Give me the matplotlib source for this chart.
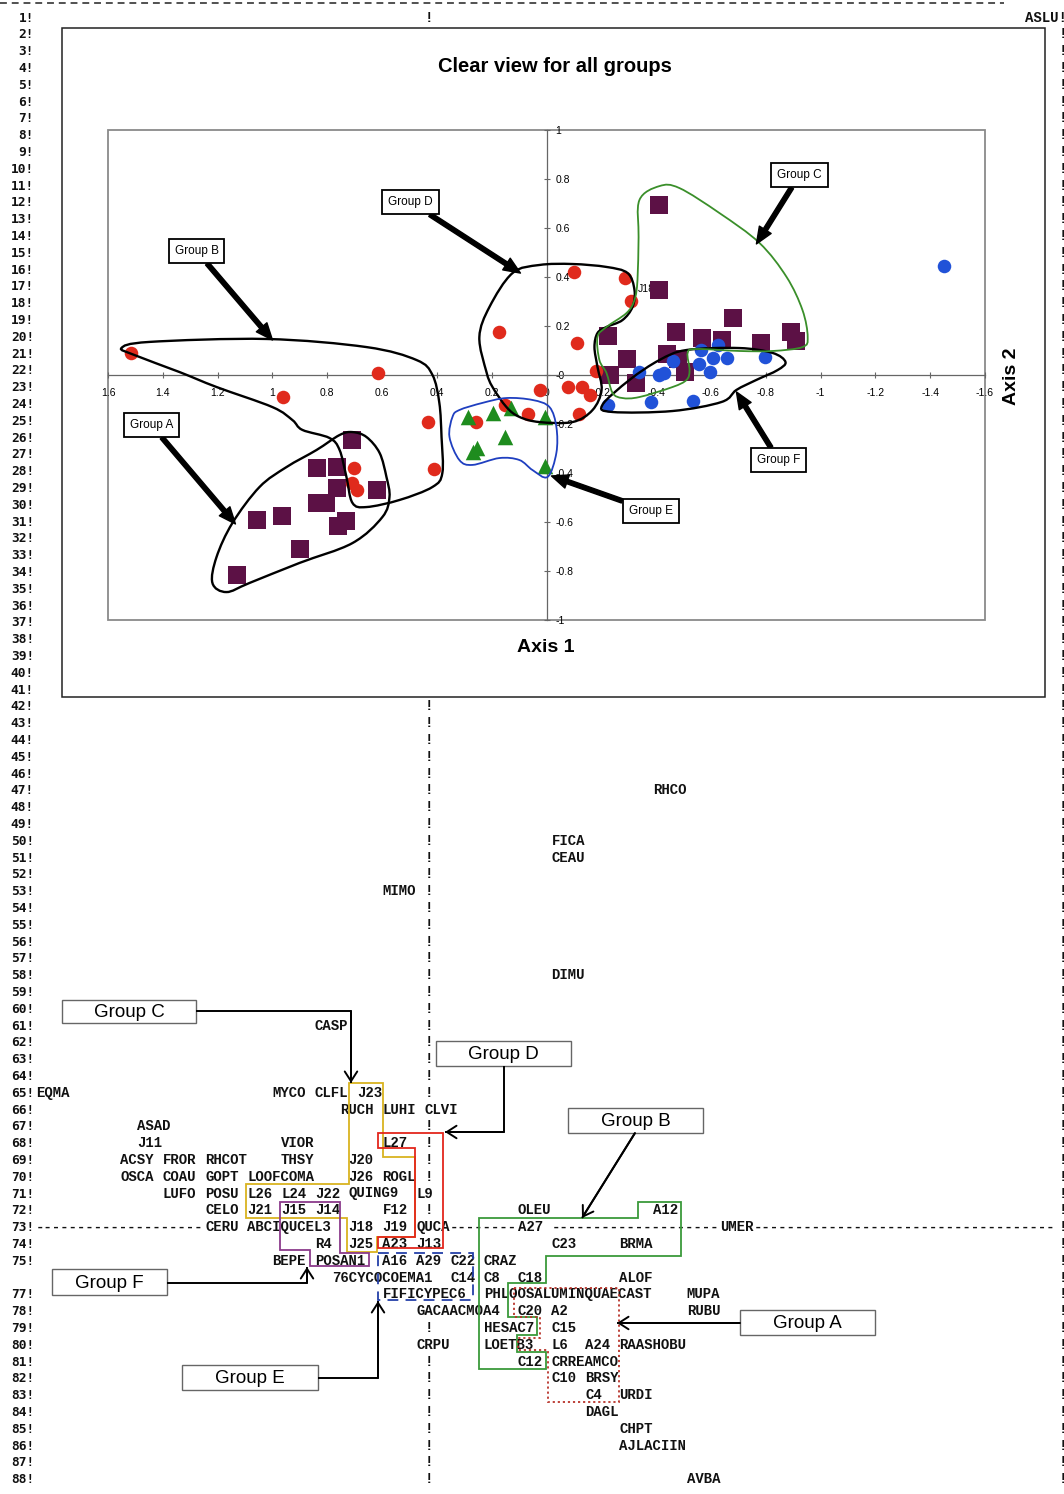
import matplotlib
matplotlib.use("Agg")
import matplotlib.pyplot as plt
from matplotlib.patches import Rectangle, PathPatch, Polygon
from matplotlib.path import Path
import numpy as np

plt.rcParams['font.family'] = ['Liberation Sans', 'DejaVu Sans']

# ---------------- ordination scores (axis 1, axis 2) ----------------
red_x = [1.515, 0.613, 0.960, 0.434, 0.412, 0.701, 0.708, 0.693, 0.259, 0.153, 0.066,
         0.022, 0.175, -0.099, -0.288, -0.307, -0.113, -0.182, -0.077, -0.128, -0.157, -0.120]
red_y = [0.090, 0.008, -0.090, -0.192, -0.384, -0.380, -0.441, -0.469, -0.192, -0.122, -0.159,
         -0.061, 0.176, 0.420, 0.396, 0.302, 0.131, 0.016, -0.049, -0.049, -0.082, -0.159]

blue_x = [-1.449, -0.336, -0.409, -0.427, -0.460, -0.562, -0.624, -0.606, -0.657, -0.555,
          -0.595, -0.799, -0.223, -0.383, -0.533]
blue_y = [0.445, 0.012, 0.000, 0.008, 0.057, 0.102, 0.122, 0.069, 0.069, 0.045,
          0.012, 0.073, -0.122, -0.110, -0.106]

purple_x = [-0.409, -0.409, -0.223, -0.474, -0.679, -0.569, -0.639, -0.781, -0.891, -0.912,
            -0.292, -0.438, -0.478, -0.504, -0.230, -0.328,
            0.708, 0.836, 0.766, 0.766, 0.617, 0.836, 0.803, 0.964, 1.058, 0.730, 0.759, 0.898, 1.131]
purple_y = [0.694, 0.347, 0.159, 0.176, 0.233, 0.151, 0.143, 0.131, 0.176, 0.139,
            0.065, 0.086, 0.065, 0.012, 0.000, -0.033,
            -0.265, -0.380, -0.376, -0.461, -0.469, -0.522, -0.522, -0.576, -0.592, -0.596, -0.616, -0.710, -0.816]

green_x = [0.285, 0.197, 0.255, 0.270, 0.153, 0.007, 0.007, 0.128]
green_y = [-0.171, -0.155, -0.298, -0.314, -0.253, -0.171, -0.371, -0.135]

# hand drawn group envelopes (axis units)
outline_a = [(1.219, -0.849), (1.168, -0.886), (1.084, -0.849), (0.901, -0.767), (0.708, -0.686),
             (0.599, -0.580), (0.573, -0.498), (0.584, -0.416), (0.609, -0.318), (0.657, -0.253),
             (0.708, -0.233), (0.755, -0.245), (0.839, -0.306), (0.949, -0.376), (1.047, -0.457),
             (1.146, -0.604), (1.204, -0.743)]
outline_b = [(1.551, 0.110), (1.449, 0.135), (1.022, 0.147), (0.657, 0.114), (0.474, 0.061),
             (0.416, 0.0), (0.391, -0.114), (0.383, -0.253), (0.380, -0.400), (0.416, -0.457),
             (0.536, -0.510), (0.657, -0.539), (0.708, -0.522), (0.730, -0.416), (0.755, -0.306),
             (0.792, -0.257), (0.891, -0.224), (0.927, -0.184), (1.0, -0.131), (1.204, -0.049),
             (1.339, 0.012), (1.50, 0.080)]
outline_c = [(-0.412, 0.771), (-0.339, 0.714), (-0.336, 0.563), (-0.332, 0.388), (-0.321, 0.306),
             (-0.292, 0.253), (-0.219, 0.196), (-0.186, 0.155), (-0.193, 0.061), (-0.219, 0.008),
             (-0.241, -0.073), (-0.277, -0.094), (-0.339, -0.090), (-0.460, -0.049), (-0.511, -0.020),
             (-0.522, 0.020), (-0.515, 0.090), (-0.547, 0.106), (-0.704, 0.098), (-0.825, 0.098),
             (-0.934, 0.114), (-0.953, 0.155), (-0.934, 0.265), (-0.876, 0.400), (-0.777, 0.539),
             (-0.631, 0.661), (-0.485, 0.763)]
outline_d = [(0.219, 0.012), (0.245, 0.155), (0.208, 0.278), (0.124, 0.416), (0.026, 0.449),
             (-0.095, 0.453), (-0.219, 0.441), (-0.296, 0.416), (-0.321, 0.347), (-0.314, 0.278),
             (-0.277, 0.224), (-0.219, 0.196), (-0.186, 0.171), (-0.175, 0.114), (-0.186, 0.033),
             (-0.201, -0.061), (-0.168, -0.143), (-0.095, -0.192), (0.026, -0.192), (0.099, -0.171),
             (0.146, -0.131), (0.197, -0.049)]
outline_e = [(0.343, -0.171), (0.354, -0.253), (0.318, -0.347), (0.270, -0.367), (0.172, -0.339),
             (0.099, -0.347), (0.051, -0.388), (-0.004, -0.416), (-0.036, -0.318), (-0.036, -0.212),
             (-0.011, -0.131), (0.051, -0.102), (0.146, -0.094), (0.234, -0.114), (0.318, -0.143)]
outline_f = [(-0.204, -0.122), (-0.303, -0.020), (-0.412, 0.061), (-0.511, 0.102), (-0.704, 0.110),
             (-0.825, 0.090), (-0.872, 0.053), (-0.843, 0.020), (-0.766, -0.020), (-0.693, -0.061),
             (-0.639, -0.110), (-0.460, -0.147), (-0.241, -0.151)]

# callouts: label, text position, arrow tip
chart_callouts = [("Group A", (1.442, -0.204), (1.135, -0.608)),
                  ("Group B", (1.277, 0.506), (1.0, 0.143)),
                  ("Group D", (0.496, 0.706), (0.095, 0.416)),
                  ("Group C", (-0.923, 0.816), (-0.766, 0.535)),
                  ("Group F", (-0.847, -0.347), (-0.693, -0.069)),
                  ("Group E", (-0.380, -0.555), (-0.018, -0.412))]

tick_vals_x = np.round(np.arange(1.6, -1.61, -0.2), 1)
tick_vals_y = np.round(np.arange(-1.0, 1.01, 0.2), 1)

# ---------------- line printer output (row, column, text) ----------------
print_labels = [
    (1, 117, "ASLU!"),
    (47, 73, "RHCO"), (50, 61, "FICA"), (51, 61, "CEAU"), (53, 41, "MIMO"),
    (58, 61, "DIMU"), (61, 33, "CASP"),
    (65, 0, "EQMA"), (65, 28, "MYCO"), (65, 33, "CLFL"), (65, 38, "J23"),
    (66, 36, "RUCH"), (66, 41, "LUHI"), (66, 46, "CLVI"),
    (67, 12, "ASAD"),
    (68, 12, "J11"), (68, 29, "VIOR"), (68, 41, "L27"),
    (69, 10, "ACSY"), (69, 15, "FROR"), (69, 20, "RHCOT"), (69, 29, "THSY"), (69, 37, "J20"),
    (70, 10, "OSCA"), (70, 15, "COAU"), (70, 20, "GOPT"), (70, 25, "LOOFCOMA"), (70, 37, "J26"),
    (70, 41, "ROGL"),
    (71, 15, "LUFO"), (71, 20, "POSU"), (71, 25, "L26"), (71, 29, "L24"), (71, 33, "J22"),
    (71, 37, "QUING9"), (71, 45, "L9"),
    (72, 20, "CELO"), (72, 25, "J21"), (72, 29, "J15"), (72, 33, "J14"), (72, 41, "F12"),
    (72, 57, "OLEU"), (72, 73, "A12"),
    (73, 0, "-" * 20), (73, 20, "CERU"), (73, 25, "ABCIQUCEL3"), (73, 37, "J18"), (73, 41, "J19"),
    (73, 45, "QUCA"), (73, 49, "-" * 8), (73, 57, "A27"), (73, 61, "-" * 20), (73, 81, "UMER"),
    (73, 85, "-" * 36),
    (74, 33, "R4"), (74, 37, "J25"), (74, 41, "A23"), (74, 45, "J13"), (74, 61, "C23"), (74, 69, "BRMA"),
    (75, 28, "BEPE"), (75, 33, "POSAN1"), (75, 41, "A16"), (75, 45, "A29"), (75, 49, "C22"),
    (75, 53, "CRAZ"),
    (76, 35, "76CYCOCOEMA1"), (76, 49, "C14"), (76, 53, "C8"), (76, 57, "C18"), (76, 69, "ALOF"),
    (77, 41, "FIFICYPEC6"), (77, 53, "PHLOOSALUMINQUAECAST"), (77, 77, "MUPA"),
    (78, 45, "GACAACMOA4"), (78, 57, "C20"), (78, 61, "A2"), (78, 77, "RUBU"),
    (79, 53, "HESAC7"), (79, 61, "C15"),
    (80, 45, "CRPU"), (80, 53, "LOETB3"), (80, 61, "L6"), (80, 65, "A24"), (80, 69, "RAASHOBU"),
    (81, 57, "C12"), (81, 61, "CRREAMCO"),
    (82, 61, "C10"), (82, 65, "BRSY"),
    (83, 65, "C4"), (83, 69, "URDI"),
    (84, 65, "DAGL"), (85, 69, "CHPT"), (86, 69, "AJLACIIN"), (88, 77, "AVBA"),
]
mid_bar_rows = [1] + list(range(42, 66)) + [67, 68, 69, 70, 72, 79] + list(range(81, 89))
row_numbers = [r for r in range(1, 89) if r != 76]

# group outlines drawn on the printout (page pixels)
print_groups = [
    ("#d9b320", "-", [(349, 1083), (383, 1083), (383, 1157), (415, 1157), (415, 1237), (377, 1237),
                      (377, 1252), (347, 1252), (347, 1218), (246, 1218), (246, 1184), (349, 1184)]),
    ("#e3261c", "-", [(378, 1133), (443, 1133), (443, 1248), (378, 1248), (378, 1237), (415, 1237),
                      (415, 1148), (378, 1148)]),
    ("#8b3a8b", "-", [(280, 1202), (340, 1202), (340, 1253), (369, 1253), (369, 1266), (310, 1266),
                      (310, 1250), (280, 1250)]),
    ("#2440a8", (0, (6, 4)), [(378, 1253), (473, 1253), (473, 1300), (378, 1300)]),
    ("#3a9a3a", "-", [(479, 1218), (638, 1218), (638, 1202), (681, 1202), (681, 1256), (546, 1256),
                      (546, 1283), (508, 1283), (508, 1317), (537, 1317), (537, 1335), (517, 1335),
                      (517, 1352), (546, 1352), (546, 1369), (479, 1369)]),
    ("#b8332a", (0, (1.2, 1.6)), [(514, 1288), (619, 1288), (619, 1402), (548, 1402), (548, 1350),
                                  (518, 1350), (518, 1338), (540, 1338), (540, 1317), (514, 1317)]),
]
print_callouts = [
    ("Group C", (62, 1000, 134, 23), [(196, 1011), (351, 1011), (351, 1083)]),
    ("Group D", (436, 1041, 135, 25), [(504, 1066), (504, 1132), (445, 1132)]),
    ("Group B", (568, 1108, 135, 25), [(635, 1133), (582, 1218)]),
    ("Group F", (52, 1269, 115, 26), [(167, 1283), (307, 1283), (307, 1267)]),
    ("Group E", (182, 1365, 136, 25), [(318, 1378), (378, 1378), (378, 1301)]),
    ("Group A", (740, 1310, 135, 25), [(740, 1323), (617, 1323)]),
]

W, H = 1064, 1494
ROW_Y0, ROW_H = 17.0, 16.8
COL_X0, COL_W = 36.0, 8.45
MONO = "Liberation Mono"


def row_y(r):
    return ROW_Y0 + (r - 1) * ROW_H


def col_x(c):
    return COL_X0 + c * COL_W


def smooth_closed(pts):
    # closed Catmull-Rom curve turned into cubic bezier segments
    p = np.asarray(pts, dtype=float)
    n = len(p)
    verts = [p[0]]
    codes = [Path.MOVETO]
    for i in range(n):
        p0, p1, p2, p3 = p[i - 1], p[i], p[(i + 1) % n], p[(i + 2) % n]
        verts += [p1 + (p2 - p0) / 6.0, p2 - (p3 - p1) / 6.0, p2]
        codes += [Path.CURVE4] * 3
    return Path(verts, codes)


fig = plt.figure(figsize=(W / 100, H / 100), dpi=100)
page = fig.add_axes([0, 0, 1, 1])
page.set_xlim(0, W)
page.set_ylim(H, 0)
page.axis("off")

# printout: top rule of the page (cut at the edge in the scan)
page.plot([0, 1004], [3, 3], color="#222", lw=1.1, ls=(0, (4.5, 3.2)))

mono_kw = dict(family=MONO, fontweight="bold", fontsize=10.1, va="baseline", ha="left", color="#111")
for r in row_numbers:
    page.text(34, row_y(r) + 4.5, f"{r}!", family="DejaVu Sans Mono", fontweight="bold",
              fontsize=9.3, ha="right", va="baseline", color="#111")
for r in mid_bar_rows:
    page.text(col_x(46), row_y(r) + 4.5, "!", **mono_kw)
for r in range(2, 89):
    page.text(col_x(121), row_y(r) + 4.5, "!", **mono_kw)
for r, c, t in print_labels:
    page.text(col_x(c), row_y(r) + 4.5, t, **mono_kw)

for color, ls, pts in print_groups:
    page.add_patch(Polygon(pts, closed=True, fill=False, ec=color, lw=1.3, ls=ls, zorder=4))

for label, (x0, y0, w, h), path in print_callouts:
    page.add_patch(Rectangle((x0, y0), w, h, fc="white", ec="#666", lw=1.0, zorder=5))
    page.text(x0 + w / 2, y0 + h / 2 + 1, label, fontsize=13.5, ha="center", va="center", zorder=6)
    xs, ys = zip(*path)
    page.plot(xs, ys, color="black", lw=1.4, zorder=5, solid_capstyle="butt")
    page.annotate("", xy=path[-1], xytext=path[-2], zorder=6,
                  arrowprops=dict(arrowstyle="->,head_length=0.7,head_width=0.45", lw=1.4,
                                  color="black", shrinkA=0, shrinkB=0, mutation_scale=10))

# chart frame on top of the printout
page.add_patch(Rectangle((62, 28), 983, 669, fc="white", ec="#222", lw=1.1, zorder=7))
page.text(555, 66, "Clear view for all groups", fontsize=14.5, fontweight="bold",
          ha="center", va="center", zorder=8)
page.text(546, 647, "Axis 1", fontsize=14, fontweight="bold", ha="center", va="center", zorder=8)
page.text(1012, 376, "Axis 2", fontsize=14, fontweight="bold", rotation=90,
          ha="center", va="center", zorder=8)

# ordination chart
ax = fig.add_axes([108 / W, 1 - 620 / H, 877 / W, 490 / H])
ax.set_xlim(1.6, -1.6)
ax.set_ylim(-1, 1)
ax.patch.set_alpha(0)
ax.spines["left"].set_visible(False)
ax.spines["top"].set_visible(False)
ax.spines["bottom"].set_position(("data", 0))
ax.spines["right"].set_position(("data", 0))
for s in ("bottom", "right"):
    ax.spines[s].set_color("#666")
    ax.spines[s].set_linewidth(0.9)
ax.xaxis.set_ticks_position("bottom")
ax.yaxis.set_ticks_position("right")
ax.set_xticks(tick_vals_x)
ax.set_xticklabels([f"{v:g}" for v in tick_vals_x])
ax.set_yticks(tick_vals_y)
ax.set_yticklabels([f"{v:g}" for v in tick_vals_y])
ax.tick_params(direction="inout", length=5, width=0.8, color="#666", labelsize=7.5)
ax.tick_params(axis="x", pad=7)
ax.tick_params(axis="y", pad=4)
ax.add_patch(Rectangle((0, 0), 1, 1, transform=ax.transAxes, fill=False, ec="#8a8a8a",
                       lw=1.3, clip_on=False))

ax.text(-0.332, 0.351, "J18", fontsize=7.5, ha="left", va="center", zorder=2)
ax.scatter(purple_x, purple_y, s=155, marker="s", c="#5c1145", linewidths=0, zorder=3)
ax.scatter(red_x, red_y, s=95, marker="o", c="#e02a1c", linewidths=0, zorder=3)
ax.scatter(blue_x, blue_y, s=95, marker="o", c="#2152d8", linewidths=0, zorder=3)
ax.scatter(green_x, green_y, s=125, marker="^", c="#1e8c1e", linewidths=0, zorder=3)

for pts, color, lw in [(outline_a, "black", 1.7), (outline_b, "black", 1.7), (outline_d, "black", 1.7),
                       (outline_f, "black", 1.7), (outline_c, "#3a8f2a", 1.3), (outline_e, "#1f3fc0", 1.3)]:
    ax.add_patch(PathPatch(smooth_closed(pts), fill=False, ec=color, lw=lw, zorder=4))

for label, txt_xy, tip in chart_callouts:
    ax.annotate(label, xy=tip, xytext=txt_xy, fontsize=8.5, ha="center", va="center", zorder=6,
                bbox=dict(boxstyle="square,pad=0.5", fc="white", ec="black", lw=1.3),
                arrowprops=dict(arrowstyle="simple,head_length=1.2,head_width=1.0,tail_width=0.32",
                                fc="black", ec="black", shrinkA=0, shrinkB=0, mutation_scale=10))

fig.savefig("out.png", dpi=100)
